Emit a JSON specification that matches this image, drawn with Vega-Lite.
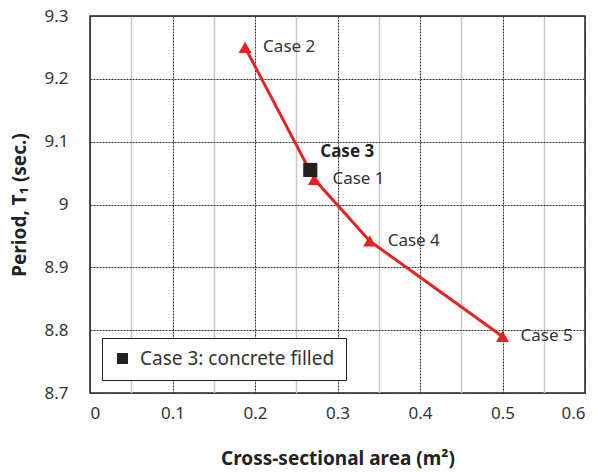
{
  "$schema": "https://vega.github.io/schema/vega-lite/v6.json",
  "width": 495,
  "height": 377,
  "autosize": {"type": "none"},
  "padding": {"left": 90, "top": 16, "right": 13, "bottom": 79},
  "background": "white",
  "config": {
    "font": "Noto Sans",
    "view": {"stroke": "#222", "strokeWidth": 1.5},
    "axis": {"labelFont": "Noto Sans", "titleFont": "Noto Sans"}
  },
  "datasets": {
    "steel": [
      {"area": 0.188, "period": 9.25, "case": "Case 2"},
      {"area": 0.272, "period": 9.04, "case": "Case 1"},
      {"area": 0.339, "period": 8.942, "case": "Case 4"},
      {"area": 0.5, "period": 8.79, "case": "Case 5"}
    ],
    "filled": [
      {"area": 0.267, "period": 9.055, "case": "Case 3", "series": "Case 3: concrete filled"}
    ]
  },
  "encoding": {
    "x": {
      "field": "area",
      "type": "quantitative",
      "scale": {"domain": [0, 0.6], "nice": false, "zero": false},
      "axis": {
        "title": "Cross-sectional area (m²)",
        "values": [0, 0.05, 0.1, 0.15, 0.2, 0.25, 0.3, 0.35, 0.4, 0.45, 0.5, 0.55, 0.6],
        "labelExpr": "round(datum.value*100) % 10 === 0 ? format(datum.value, '~g') : ''",
        "labelFontSize": 17,
        "labelColor": "#333",
        "labelPadding": 12,
        "ticks": false,
        "domain": false,
        "grid": true,
        "gridColor": {"condition": {"test": "round(datum.value*100) % 10 === 0", "value": "#333"}, "value": "#c8c8c8"},
        "gridDash": {"condition": {"test": "round(datum.value*100) % 10 === 0", "value": [2, 1]}, "value": []},
        "gridWidth": {"condition": {"test": "round(datum.value*100) % 10 === 0", "value": 1}, "value": 1.5},
        "gridOpacity": 1,
        "titleFontSize": 19,
        "titleFontWeight": "bold",
        "titleColor": "#222",
        "titlePadding": 28
      }
    },
    "y": {
      "field": "period",
      "type": "quantitative",
      "scale": {"domain": [8.7, 9.3], "nice": false, "zero": false},
      "axis": {
        "title": "Period, T₁ (sec.)",
        "values": [8.7, 8.8, 8.9, 9.0, 9.1, 9.2, 9.3],
        "format": "~g",
        "labelFontSize": 17,
        "labelColor": "#333",
        "labelPadding": 22,
        "ticks": false,
        "domain": false,
        "grid": true,
        "gridColor": "#333",
        "gridDash": [2, 1],
        "gridOpacity": 1,
        "titleFontSize": 19,
        "titleFontWeight": "bold",
        "titleColor": "#222",
        "titlePadding": 14
      }
    }
  },
  "layer": [
    {
      "data": {"name": "steel"},
      "mark": {"type": "line", "color": "#e8221f", "strokeWidth": 3},
      "encoding": {"order": {"field": "area", "type": "quantitative"}}
    },
    {
      "data": {"name": "steel"},
      "mark": {"type": "point", "shape": "triangle-up", "filled": true, "color": "#e8221f", "size": 170, "opacity": 1}
    },
    {
      "data": {"name": "steel"},
      "mark": {"type": "text", "align": "left", "baseline": "middle", "dx": 18, "fontSize": 17, "color": "#333"},
      "encoding": {"text": {"field": "case"}}
    },
    {
      "data": {"name": "filled"},
      "mark": {"type": "point", "shape": "square", "filled": true, "size": 200, "opacity": 1},
      "encoding": {
        "color": {
          "field": "series",
          "type": "nominal",
          "scale": {"domain": ["Case 3: concrete filled"], "range": ["#222"]},
          "legend": {
            "title": null,
            "orient": "none",
            "legendX": 12,
            "legendY": 322,
            "direction": "vertical",
            "strokeColor": "#222",
            "fillColor": "white",
            "padding": 11,
            "symbolType": "square",
            "symbolSize": 120,
            "symbolOpacity": 1,
            "labelFontSize": 19,
            "labelColor": "#333",
            "labelOffset": 8,
            "labelLimit": 400
          }
        }
      }
    },
    {
      "data": {"name": "filled"},
      "mark": {"type": "text", "align": "left", "baseline": "middle", "dx": 10, "dy": -18, "fontSize": 17, "fontWeight": "bold", "color": "#222"},
      "encoding": {"text": {"field": "case"}}
    }
  ]
}
